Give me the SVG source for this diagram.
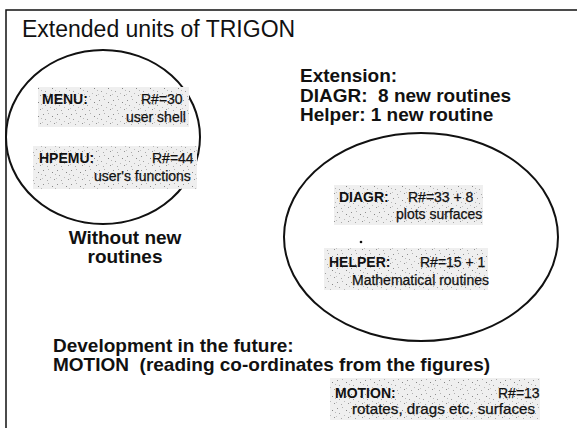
<svg xmlns="http://www.w3.org/2000/svg" width="577" height="436" viewBox="0 0 577 436">
  <defs>
    <!-- speckled grey fill for the unit boxes -->
    <pattern id="speckle" width="14" height="14" patternUnits="userSpaceOnUse">
      <rect width="14" height="14" fill="#efefef"/>
      <rect x="1" y="2" width="1" height="1" fill="#8f8f8f"/>
      <rect x="6" y="1" width="1" height="1" fill="#b0b0b0"/>
      <rect x="10" y="4" width="1" height="1" fill="#858585"/>
      <rect x="3" y="7" width="1" height="1" fill="#a0a0a0"/>
      <rect x="8" y="9" width="1" height="1" fill="#bbbbbb"/>
      <rect x="12" y="11" width="1" height="1" fill="#939393"/>
      <rect x="5" y="12" width="1" height="1" fill="#aaaaaa"/>
      <rect x="0" y="10" width="1" height="1" fill="#c4c4c4"/>
      <rect x="13" y="6" width="1" height="1" fill="#b8b8b8"/>
    </pattern>
  </defs>
  <style>
    .frame { stroke: #111; stroke-width: 1.5; fill: none; }
    .oval { stroke: #111; stroke-width: 2; fill: none; }
    .box { fill: url(#speckle); stroke: none; }
    text { font-family: "Liberation Sans", Arial, sans-serif; fill: #111; white-space: pre; }
    .title { font-size: 23px; }
    .head { font-size: 19px; font-weight: bold; }
    .lbl { font-size: 14px; font-weight: bold; }
    .txt { font-size: 14px; stroke: #111; stroke-width: 0.25; }
  </style>

  <rect width="577" height="436" fill="#fff"/>

  <!-- page frame -->
  <path class="frame" d="M6,428 V10 H577"/>

  <text class="title" x="22" y="37">Extended units of TRIGON</text>

  <!-- units without new routines -->
  <g id="group-existing">
    <ellipse class="oval" cx="103" cy="137" rx="97" ry="87"/>
    <g id="menu">
      <rect class="box" x="38" y="87" width="151" height="40"/>
      <text class="lbl" x="42" y="104">MENU:</text>
      <text class="txt" x="141" y="104">R#=30</text>
      <text class="txt" x="126" y="122">user shell</text>
    </g>
    <g id="hpemu">
      <rect class="box" x="33" y="146" width="164" height="43"/>
      <text class="lbl" x="39" y="163">HPEMU:</text>
      <text class="txt" x="152" y="163">R#=44</text>
      <text class="txt" x="94" y="181">user's functions</text>
    </g>
    <text class="head" x="125" y="244" text-anchor="middle">Without new</text>
    <text class="head" x="125" y="263" text-anchor="middle">routines</text>
  </g>

  <!-- extended units -->
  <g id="group-extension">
    <text class="head" x="300" y="82">Extension:</text>
    <text class="head" x="300" y="102">DIAGR:  8 new routines</text>
    <text class="head" x="300" y="121">Helper: 1 new routine</text>
    <ellipse class="oval" cx="421" cy="237" rx="137" ry="104"/>
    <g id="diagr">
      <rect class="box" x="334" y="185" width="149" height="40"/>
      <text class="lbl" x="339" y="202">DIAGR:</text>
      <text class="txt" x="408" y="202">R#=33 + 8</text>
      <text class="txt" x="396" y="219">plots surfaces</text>
    </g>
    <circle cx="361" cy="242" r="1.3" fill="#111"/>
    <g id="helper">
      <rect class="box" x="324" y="248" width="164" height="42"/>
      <text class="lbl" x="329" y="267">HELPER:</text>
      <text class="txt" x="420" y="267">R#=15 + 1</text>
      <text class="txt" x="352" y="285">Mathematical routines</text>
    </g>
  </g>

  <!-- planned unit -->
  <g id="group-future">
    <text class="head" x="53" y="352">Development in the future:</text>
    <text class="head" x="53" y="371">MOTION  (reading co-ordinates from the figures)</text>
    <g id="motion">
      <rect class="box" x="330" y="378" width="210" height="42"/>
      <text class="lbl" x="335" y="398">MOTION:</text>
      <text class="txt" x="498" y="398">R#=13</text>
      <text class="txt" x="352" y="414" textLength="183" lengthAdjust="spacingAndGlyphs">rotates, drags etc. surfaces</text>
    </g>
  </g>
</svg>
